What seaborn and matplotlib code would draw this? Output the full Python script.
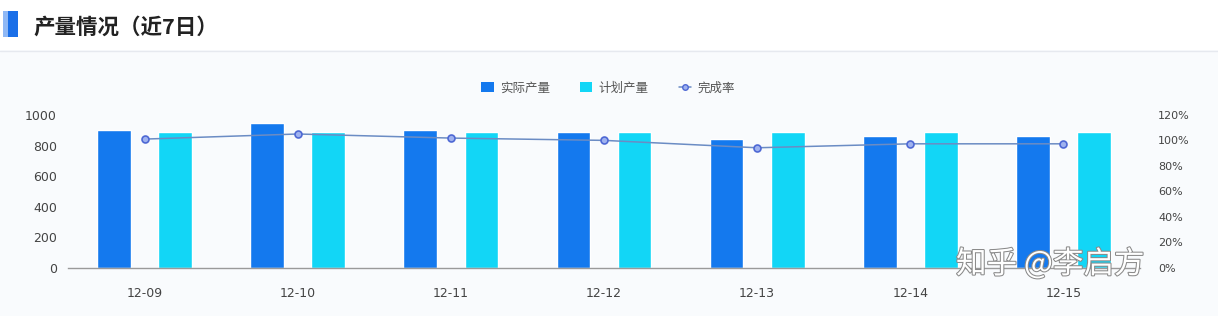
import matplotlib
matplotlib.use("Agg")
import matplotlib.pyplot as plt
import matplotlib.patheffects as pe
from matplotlib.patches import Patch, Rectangle
from matplotlib.lines import Line2D
import seaborn as sns
import pandas as pd
import numpy as np

dates = ["12-09", "12-10", "12-11", "12-12", "12-13", "12-14", "12-15"]
actual = [905, 945, 905, 890, 840, 865, 865]
plan = [890, 890, 890, 890, 890, 890, 890]
rate = [101.1, 105.1, 101.9, 100.1, 94.3, 97.4, 97.4]
series_names = ["实际产量", "计划产量", "完成率"]
left_ticks = [0, 200, 400, 600, 800, 1000]
right_ticks = [0, 20, 40, 60, 80, 100, 120]
title = "产量情况（近7日）"

sns.set_theme(style="white")
plt.rcParams["font.family"] = ["Noto Sans CJK SC", "DejaVu Sans"]

c_actual = "#1479ee"
c_plan = "#12d6f6"
c_line = "#6b8cc4"

df = pd.DataFrame({
    "date": dates * 2,
    "series": [series_names[0]] * len(dates) + [series_names[1]] * len(dates),
    "value": actual + plan,
})

W, H = 1218, 316
fig = plt.figure(figsize=(W / 100, H / 100), dpi=100)
fig.patch.set_facecolor("#f9fbfd")

# header
fig.add_artist(Rectangle((0, 1 - 50 / H), 1, 50 / H, transform=fig.transFigure,
                         facecolor="white", edgecolor="none", zorder=0))
fig.add_artist(Line2D([0, 1], [1 - 51 / H] * 2, transform=fig.transFigure,
                      color="#e6e9ef", lw=1))
fig.add_artist(Rectangle((3 / W, 1 - 37 / H), 6 / W, 26 / H, transform=fig.transFigure,
                         facecolor="#8fb8f5", edgecolor="none"))
fig.add_artist(Rectangle((8 / W, 1 - 37 / H), 10 / W, 26 / H, transform=fig.transFigure,
                         facecolor="#1a6fe8", edgecolor="none"))
fig.text(33 / W, 1 - 27 / H, title, fontsize=15.5, fontweight="bold", color="#222222",
         va="center", ha="left")

ax = fig.add_axes([68 / W, 1 - 268 / H, (1140 - 68) / W, (268 - 115) / H])
ax.set_facecolor("none")
sns.barplot(data=df, x="date", y="value", hue="series", order=dates,
            hue_order=series_names[:2], palette=[c_actual, c_plan],
            width=0.8, gap=0.45, ax=ax, legend=False, saturation=1)
ax.set_ylim(0, 1000)
ax.set_xlim(-0.5, len(dates) - 0.5)
ax.set_yticks(left_ticks)
ax.set_yticklabels([str(t) for t in left_ticks], fontfamily="DejaVu Sans")
ax.set_xlabel("")
ax.set_ylabel("")
for s in ["top", "right", "left"]:
    ax.spines[s].set_visible(False)
ax.spines["bottom"].set_color("#9a9a9a")
ax.spines["bottom"].set_linewidth(1)
ax.set_xticks(np.arange(len(dates)))
ax.set_xticklabels(dates, fontfamily="DejaVu Sans")
ax.set_xticks(np.arange(len(dates) + 1) - 0.5, minor=True)
ax.tick_params(axis="x", which="major", length=0, pad=14, labelsize=9, colors="#444444")
ax.tick_params(axis="x", which="minor", length=5, color="#9a9a9a", width=1, direction="out")
ax.tick_params(axis="y", length=0, pad=8, labelsize=9, colors="#444444")

ax2 = ax.twinx()
sns.pointplot(x=dates, y=rate, ax=ax2, color=c_line, markers="o",
              linewidth=1.1, markersize=5, markerfacecolor="#9fb2ef",
              markeredgecolor="#4e68d4", markeredgewidth=1.2, errorbar=None)
ax2.set_ylim(0, 120)
ax2.set_xlim(-0.5, len(dates) - 0.5)
ax2.set_yticks(right_ticks)
ax2.set_yticklabels([f"{t}%" for t in right_ticks], fontfamily="DejaVu Sans")
ax2.tick_params(axis="y", length=0, pad=13, labelsize=8, colors="#444444")
for s in ["top", "right", "left", "bottom"]:
    ax2.spines[s].set_visible(False)
ax2.set_ylabel("")

handles = [
    Patch(facecolor=c_actual, edgecolor="none"),
    Patch(facecolor=c_plan, edgecolor="none"),
    Line2D([0], [0], color=c_line, lw=1.1, marker="o", markersize=4,
           markerfacecolor="#9fb2ef", markeredgecolor="#4e68d4"),
]
fig.legend(handles, series_names, loc="center", bbox_to_anchor=(608 / W, 1 - 88 / H),
           ncol=3, frameon=False, fontsize=9, labelcolor="#555555",
           handlelength=1.0, handleheight=0.9, columnspacing=2.4, handletextpad=0.5)

fig.text(956 / W, 1 - 264 / H, "知乎 @李启方", fontsize=22, color="white",
         ha="left", va="center",
         path_effects=[pe.withStroke(linewidth=1.5, foreground="#8a8a8a")])

fig.savefig("out.png", dpi=100, facecolor=fig.get_facecolor())
